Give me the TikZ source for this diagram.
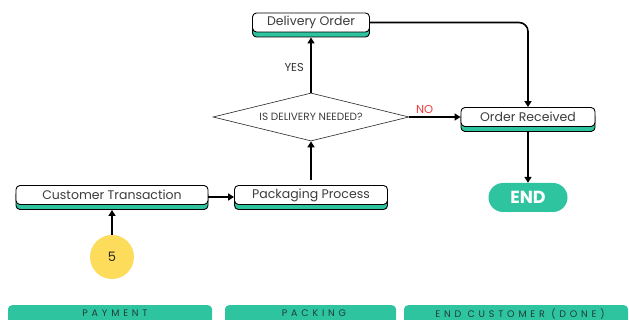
\documentclass[tikz,border=0pt]{standalone}
\usepackage{fontspec}
\setmainfont{Poppins}
\usetikzlibrary{shapes.geometric,shadows,arrows.meta}
\definecolor{tealc}{HTML}{2EC4A0}
\definecolor{txtgray}{HTML}{3C3C3C}
\definecolor{sunny}{HTML}{FDDC5C}
\definecolor{barText}{HTML}{1F3D36}
\definecolor{noRed}{HTML}{F03C3C}
\tikzset{
  procbox/.style={draw=black, line width=0.9pt, fill=white, rounded corners=4pt,
    minimum height=19pt, inner sep=0pt, text=txtgray, font=\fontsize{12.5}{13}\selectfont},
  boxshade/.style={general shadow={shadow xshift=0pt, shadow yshift=-5pt, fill=tealc, draw=black, line width=0.9pt}},
  decision/.style={diamond, draw=black!85, line width=0.6pt, fill=white, aspect=4, inner sep=0pt,
    minimum width=196pt, minimum height=48pt, text=txtgray, font=\fontsize{10.5}{11}\selectfont},
  flow/.style={draw=black, line width=1.6pt, -{Triangle[length=6pt,width=7pt]}},
  bar/.style={fill=tealc, rounded corners=4pt, minimum height=22pt, inner sep=0pt, anchor=north},
  bartext/.style={text=barText, inner sep=0pt, font=\fontsize{9.5}{10}\selectfont\addfontfeature{LetterSpace=40}},
  lbl/.style={font=\fontsize{11.5}{12}\selectfont},
}
\begin{document}
\begin{tikzpicture}[x=1pt, y=-1pt]
\useasboundingbox (0,0) rectangle (629,320);
\clip (0,0) rectangle (629,320);

% process steps
\node[procbox, boxshade, minimum width=117pt] (do) at (311,22.5) {Delivery Order};
\node[decision] (dia) at (311,117) {IS DELIVERY NEEDED?};
\node[procbox, boxshade, minimum width=134pt] (or) at (528,117) {Order Received};
\node[procbox, boxshade, minimum width=192pt] (ct) at (112,195) {Customer Transaction};
\node[procbox, boxshade, minimum width=153pt] (pp) at (311,195) {Packaging Process};
\node[fill=tealc, rounded corners=14.5pt, minimum width=79pt, minimum height=29pt, inner sep=0pt,
  text=white, font=\fontsize{17.5}{19}\selectfont\bfseries] (end) at (528,197.5) {END};
\node[circle, fill=sunny, minimum size=44pt, inner sep=0pt, text=black!85,
  font=\fontsize{13}{15}\selectfont] (five) at (112,257) {5};

% connectors
\draw[flow] (five.north) -- ([yshift=-5pt]ct.south);
\draw[flow] ([yshift=-2pt]ct.east) -- ([yshift=-2pt]pp.west);
\draw[flow] ([yshift=5pt]pp.north) -- (dia.south);
\draw[flow] (dia.north) -- node[left=3pt, pos=0.45, text=black!80, lbl] (yes) {YES} ([yshift=-5pt]do.south);
\draw[flow] (dia.east) -- node[above=-1pt, pos=0.3, text=noRed, lbl] (no) {NO} (or.west);
\draw[flow, rounded corners=9pt] (do.east) -| (or.north);
\draw[flow] ([yshift=-5pt]or.south) -- (end.north);

% phase bars
\node[bar, minimum width=204pt] (pay) at (110,305) {};
\node[bartext] (payt) at (115,313.5) {PAYMENT};
\node[bar, minimum width=171pt] (pack) at (310.5,305) {};
\node[bartext] (packt) at (314,313.5) {PACKING};
\node[bar, minimum width=224pt] (done) at (516,305) {};
\node[bartext] (donet) at (520,313.5) {END CUSTOMER (DONE)};
\end{tikzpicture}
\end{document}
